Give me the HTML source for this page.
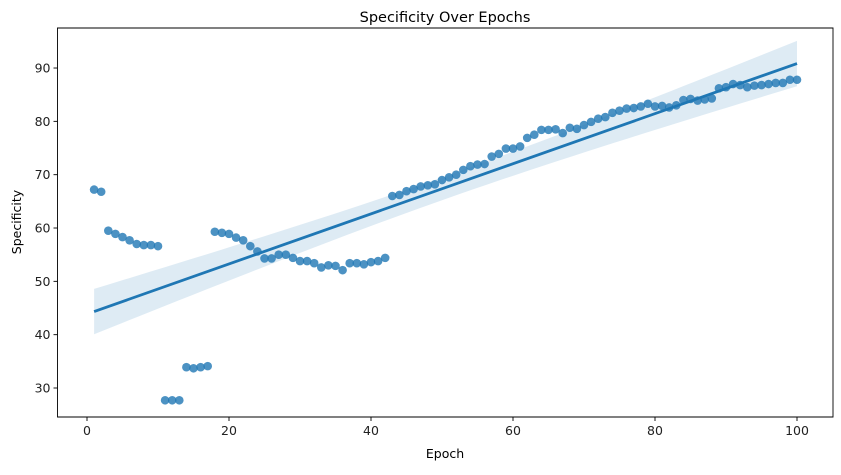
<!DOCTYPE html>
<html><head><meta charset="utf-8"><style>
body{margin:0;background:#fff;font-family:"Liberation Sans","DejaVu Sans",sans-serif}
</style></head><body>
<svg id="chart" width="841" height="470" xmlns="http://www.w3.org/2000/svg" font-family="DejaVu Sans, Liberation Sans, sans-serif"></svg>
<script>
const epochs=[];for(let i=1;i<=100;i++)epochs.push(i);
const specificity=[67.2,66.8,59.5,58.9,58.3,57.7,57.0,56.8,56.8,56.6,27.7,27.7,27.7,33.9,33.7,33.9,34.1,59.3,59.1,58.9,58.2,57.7,56.6,55.6,54.3,54.3,55.0,55.0,54.4,53.8,53.8,53.4,52.6,53.0,52.9,52.1,53.4,53.4,53.2,53.6,53.8,54.4,66.0,66.2,66.9,67.3,67.8,68.0,68.2,69.0,69.5,70.0,70.9,71.6,71.9,72.0,73.4,73.9,74.9,74.9,75.3,76.9,77.5,78.4,78.4,78.5,77.8,78.8,78.6,79.3,79.9,80.5,80.8,81.6,82.0,82.4,82.5,82.8,83.3,82.8,82.9,82.6,83.0,84.0,84.2,83.9,84.1,84.3,86.2,86.4,87.0,86.8,86.4,86.7,86.8,87.0,87.2,87.2,87.8,87.8];
const xTicks=[0,20,40,60,80,100];
const yTicks=[30,40,50,60,70,80,90];
const NS="http://www.w3.org/2000/svg";
const svg=document.getElementById('chart');
const L=57.5,R=833,T=28,B=417;
const X=v=>87+v*7.1;
const Y=v=>388-(v-30)*5.333;
function el(t,a,p){const e=document.createElementNS(NS,t);for(const k in a)e.setAttribute(k,a[k]);(p||svg).appendChild(e);return e;}
const n=epochs.length;const mx=epochs.reduce((a,b)=>a+b)/n;const my=specificity.reduce((a,b)=>a+b)/n;
let sxx=0,sxy=0;for(let i=0;i<n;i++){sxx+=(epochs[i]-mx)**2;sxy+=(epochs[i]-mx)*(specificity[i]-my);}
const b1=sxy/sxx,b0=my-b1*mx;let sse=0;for(let i=0;i<n;i++)sse+=(specificity[i]-b0-b1*epochs[i])**2;
const s=Math.sqrt(sse/(n-2));
const x0=epochs[0],x1=epochs[n-1];
const up=[],lo=[];
for(let k=0;k<=50;k++){const x=x0+(x1-x0)*k/50;const se=1.984*1.4*s*Math.sqrt(1/n+(x-mx)**2/sxx);const yh=b0+b1*x;up.push(X(x)+','+Y(yh+se));lo.unshift(X(x)+','+Y(yh-se));}
const band=el('polygon',{points:up.concat(lo).join(' '),fill:'#1f77b4','fill-opacity':0.15});


const g=el('g',{});


for(let i=0;i<n;i++){const c=el('circle',{cx:X(epochs[i]),cy:Y(specificity[i]),r:4.3,fill:'#1f77b4','fill-opacity':0.8},g);

}
const ln=el('line',{x1:X(x0),y1:Y(b0+b1*x0),x2:X(x1),y2:Y(b0+b1*x1),stroke:'#1f77b4','stroke-width':2.8});


const fr=el('path',{d:`M${L},${T}V${B}H${R}V${T}Z`,fill:'none',stroke:'#000','stroke-width':0.9});


xTicks.forEach(t=>{el('line',{x1:X(t),x2:X(t),y1:B,y2:B+4,stroke:'#000','stroke-width':0.9});
const tx=el('text',{x:X(t),y:B+18,'text-anchor':'middle','font-size':12.5,fill:'#222'});tx.textContent=t;

});
yTicks.forEach(t=>{el('line',{x1:L-4,x2:L,y1:Y(t),y2:Y(t),stroke:'#000','stroke-width':0.9});
const tx=el('text',{x:L-7,y:Y(t)+4.5,'text-anchor':'end','font-size':12.5,fill:'#222'});tx.textContent=t;

});
const ttl=el('text',{x:445,y:22,'text-anchor':'middle','font-size':14.5,fill:'#000'});ttl.textContent='Specificity Over Epochs';


const xl=el('text',{x:445,y:458,'text-anchor':'middle','font-size':12.5,fill:'#000'});xl.textContent='Epoch';


const yl=el('text',{x:21,y:222,'text-anchor':'middle','font-size':12.5,fill:'#000',transform:'rotate(-90 21 222)'});yl.textContent='Specificity';


</script>
</body></html>
